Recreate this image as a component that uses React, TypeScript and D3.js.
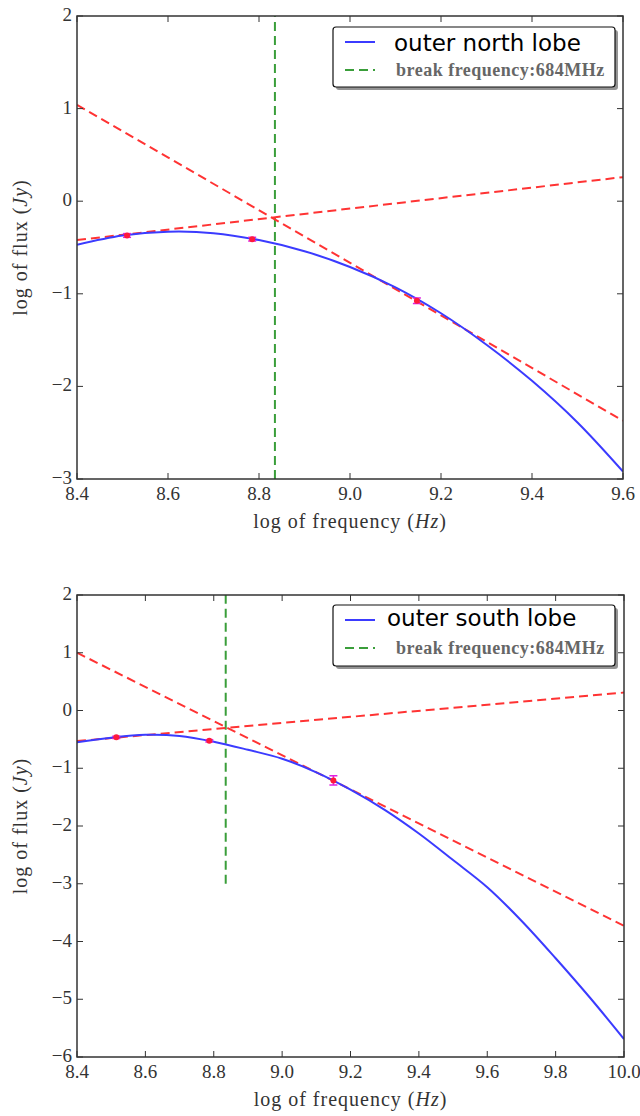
import React from "react";
import * as d3 from "d3";

// ---------- data ----------
const northModelFreq = [8.4, 8.5, 8.6, 8.7, 8.8, 8.9, 9.0, 9.1, 9.2, 9.3, 9.4, 9.5, 9.6];
const northModelFlux = [-0.47, -0.37, -0.33, -0.345, -0.42, -0.54, -0.71, -0.93, -1.21, -1.55, -1.94, -2.39, -2.92];
const northObsFreq = [8.51, 8.785, 9.147];
const northObsFlux = [-0.37, -0.41, -1.075];
const northObsErr = [0.02, 0.02, 0.03];
const northLowFitFreq = [8.4, 9.6];
const northLowFitFlux = [-0.42, 0.26];
const northHighFitFreq = [8.4, 9.6];
const northHighFitFlux = [1.04, -2.37];

const southModelFreq = [8.4, 8.5, 8.6, 8.7, 8.8, 8.9, 9.0, 9.1, 9.2, 9.3, 9.4, 9.5, 9.6, 9.7, 9.8, 9.9, 10.0];
const southModelFlux = [-0.55, -0.47, -0.42, -0.44, -0.54, -0.68, -0.835, -1.07, -1.37, -1.72, -2.13, -2.59, -3.06, -3.64, -4.29, -4.97, -5.69];
const southObsFreq = [8.515, 8.787, 9.15];
const southObsFlux = [-0.465, -0.525, -1.21];
const southObsErr = [0.02, 0.02, 0.08];
const southLowFitFreq = [8.4, 10.0];
const southLowFitFlux = [-0.53, 0.31];
const southHighFitFreq = [8.4, 10.0];
const southHighFitFlux = [1.0, -3.73];

const breakFreq = 8.835;
const breakLineFlux = [-3, 2];

const northXTicks = [8.4, 8.6, 8.8, 9.0, 9.2, 9.4, 9.6];
const northYTicks = [2, 1, 0, -1, -2, -3];
const southXTicks = [8.4, 8.6, 8.8, 9.0, 9.2, 9.4, 9.6, 9.8, 10.0];
const southYTicks = [2, 1, 0, -1, -2, -3, -4, -5, -6];

const legendNorth = ["outer north lobe", "break frequency:684MHz"];
const legendSouth = ["outer south lobe", "break frequency:684MHz"];

// ---------- styles ----------
const SERIF = "'Liberation Serif', 'DejaVu Serif', serif";
const SANS = "'DejaVu Sans', sans-serif";
const BLUE = "#3b3bff";
const RED = "#ff3333";
const GREEN = "#3a9e3a";
const AXIS = "#333";

type PanelProps = {
  top: number; bottom: number; left: number; right: number;
  xDomain: [number, number]; yDomain: [number, number];
  xTicks: number[]; yTicks: number[];
  modelFreq: number[]; modelFlux: number[];
  obsFreq: number[]; obsFlux: number[]; obsErr: number[];
  lowF: number[]; lowY: number[]; highF: number[]; highY: number[];
  legend: string[]; legendBox: { x: number; y: number; w: number; h: number };
  legendTextX: number; legendBase: number;
};

function Panel(p: PanelProps) {
  const x = d3.scaleLinear().domain(p.xDomain).range([p.left, p.right]);
  const y = d3.scaleLinear().domain(p.yDomain).range([p.bottom, p.top]);
  const line = d3.line<[number, number]>().x((d) => x(d[0])).y((d) => y(d[1]));
  const smooth = d3.line<[number, number]>().x((d) => x(d[0])).y((d) => y(d[1])).curve(d3.curveCatmullRom.alpha(0.5));
  const model = p.modelFreq.map((f, i) => [f, p.modelFlux[i]] as [number, number]);
  const low = p.lowF.map((f, i) => [f, p.lowY[i]] as [number, number]);
  const high = p.highF.map((f, i) => [f, p.highY[i]] as [number, number]);
  const brk = breakLineFlux.map((v) => [breakFreq, v] as [number, number]);
  const tick = 6;
  const midY = (p.top + p.bottom) / 2;
  const midX = (p.left + p.right) / 2;
  const lb = p.legendBox;
  return (
    <g>
      <defs>
        <clipPath id={`clip${p.top}`}>
          <rect x={p.left} y={p.top} width={p.right - p.left} height={p.bottom - p.top} />
        </clipPath>
      </defs>
      <g clipPath={`url(#clip${p.top})`}>
        <path d={line(brk) || ""} fill="none" stroke={GREEN} strokeWidth={2} strokeDasharray="9,5" />
        <path d={line(low) || ""} fill="none" stroke={RED} strokeWidth={2} strokeDasharray="9,5" />
        <path d={line(high) || ""} fill="none" stroke={RED} strokeWidth={2} strokeDasharray="9,5" />
        <path d={smooth(model) || ""} fill="none" stroke={BLUE} strokeWidth={2} />
        {p.obsFreq.map((f, i) => (
          <g key={i}>
            <line x1={x(f)} x2={x(f)} y1={y(p.obsFlux[i] - p.obsErr[i])} y2={y(p.obsFlux[i] + p.obsErr[i])} stroke="#e020e0" strokeWidth={1.5} />
            <line x1={x(f) - 4} x2={x(f) + 4} y1={y(p.obsFlux[i] - p.obsErr[i])} y2={y(p.obsFlux[i] - p.obsErr[i])} stroke="#e020e0" strokeWidth={1.5} />
            <line x1={x(f) - 4} x2={x(f) + 4} y1={y(p.obsFlux[i] + p.obsErr[i])} y2={y(p.obsFlux[i] + p.obsErr[i])} stroke="#e020e0" strokeWidth={1.5} />
            <circle cx={x(f)} cy={y(p.obsFlux[i])} r={3} fill="#ff1a3a" />
          </g>
        ))}
      </g>
      {/* ticks */}
      {p.xTicks.map((t) => (
        <g key={"x" + t}>
          <line x1={x(t)} x2={x(t)} y1={p.bottom} y2={p.bottom - tick} stroke={AXIS} strokeWidth={1} />
          <line x1={x(t)} x2={x(t)} y1={p.top} y2={p.top + tick} stroke={AXIS} strokeWidth={1} />
          <text x={x(t)} y={p.bottom + 21} textAnchor="middle" fontFamily={SERIF} fontSize={19} fill="#333">{t.toFixed(1)}</text>
        </g>
      ))}
      {p.yTicks.map((t) => (
        <g key={"y" + t}>
          <line x1={p.left} x2={p.left + tick} y1={y(t)} y2={y(t)} stroke={AXIS} strokeWidth={1} />
          <line x1={p.right} x2={p.right - tick} y1={y(t)} y2={y(t)} stroke={AXIS} strokeWidth={1} />
          <text x={p.left - 5} y={y(t) + 5} textAnchor="end" fontFamily={SERIF} fontSize={19} fill="#333">{t < 0 ? "\u2212" + Math.abs(t) : String(t)}</text>
        </g>
      ))}
      <rect x={p.left} y={p.top} width={p.right - p.left} height={p.bottom - p.top} fill="none" stroke={AXIS} strokeWidth={1.5} />
      {/* axis labels */}
      <text x={midX} y={p.bottom + 49} textAnchor="middle" fontFamily={SERIF} fontSize={20} letterSpacing={1} fill="#333">
        log of frequency (<tspan fontStyle="italic">Hz</tspan>)
      </text>
      <text transform={`translate(${27},${midY}) rotate(-90)`} textAnchor="middle" fontFamily={SERIF} fontSize={20} letterSpacing={1} fill="#333">
        log of flux (<tspan fontStyle="italic">Jy</tspan>)
      </text>
      {/* legend */}
      <rect x={lb.x + 3} y={lb.y + 3} width={lb.w} height={lb.h} rx={3} fill="#666" opacity={0.7} />
      <rect x={lb.x} y={lb.y} width={lb.w} height={lb.h} rx={3} fill="#fff" stroke="#111" strokeWidth={1.2} />
      <line x1={lb.x + 12} x2={lb.x + 42} y1={lb.y + 15} y2={lb.y + 15} stroke={BLUE} strokeWidth={2} />
      <text x={p.legendTextX} y={lb.y + p.legendBase} fontFamily={SANS} fontSize={23} fill="#000">{p.legend[0]}</text>
      <line x1={lb.x + 12} x2={lb.x + 42} y1={lb.y + 43} y2={lb.y + 43} stroke={GREEN} strokeWidth={2} strokeDasharray="9,5" />
      <text x={lb.x + 63} y={lb.y + 49} fontFamily={SERIF} fontSize={18} letterSpacing={0.5} fill="#666" fontWeight="bold">{p.legend[1]}</text>
    </g>
  );
}

export default function App() {
  return (
    <svg width={640} height={1116} style={{ position: "absolute", left: 0, top: 0, background: "#fff" }}>
      <Panel
        top={16} bottom={479} left={77} right={623}
        xDomain={[8.4, 9.6]} yDomain={[-3, 2]}
        xTicks={northXTicks} yTicks={northYTicks}
        modelFreq={northModelFreq} modelFlux={northModelFlux}
        obsFreq={northObsFreq} obsFlux={northObsFlux} obsErr={northObsErr}
        lowF={northLowFitFreq} lowY={northLowFitFlux} highF={northHighFitFreq} highY={northHighFitFlux}
        legend={legendNorth} legendBox={{ x: 333, y: 27, w: 282, h: 60 }} legendTextX={394} legendBase={24}
      />
      <Panel
        top={595} bottom={1057} left={77} right={624}
        xDomain={[8.4, 10.0]} yDomain={[-6, 2]}
        xTicks={southXTicks} yTicks={southYTicks}
        modelFreq={southModelFreq} modelFlux={southModelFlux}
        obsFreq={southObsFreq} obsFlux={southObsFlux} obsErr={southObsErr}
        lowF={southLowFitFreq} lowY={southLowFitFlux} highF={southHighFitFreq} highY={southHighFitFlux}
        legend={legendSouth} legendBox={{ x: 333, y: 605, w: 282, h: 61 }} legendTextX={387} legendBase={21}
      />
    </svg>
  );
}
